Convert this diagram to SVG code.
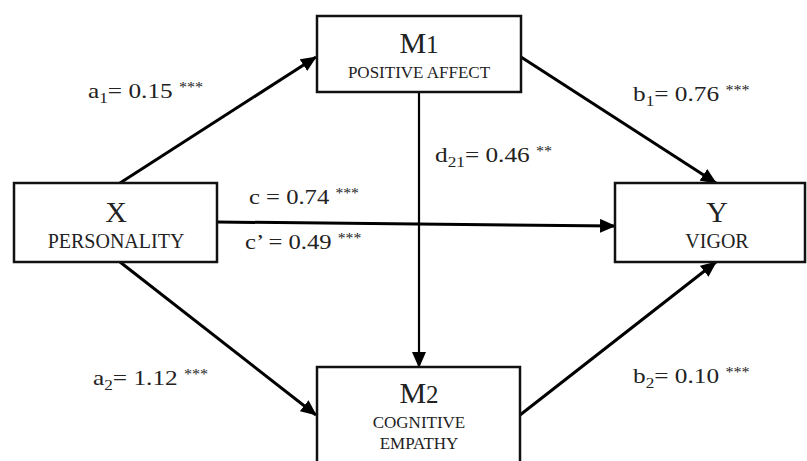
<svg xmlns="http://www.w3.org/2000/svg" width="807" height="461" viewBox="0 0 807 461">
<style>
text{font-family:'Liberation Serif','Times New Roman','DejaVu Serif',serif;fill:#222}
.box{fill:#fff;stroke:#111;stroke-width:2.5}
.big{font-size:30px;text-anchor:middle}
.sm{font-size:17px;text-anchor:middle}
.md{font-size:20px;text-anchor:middle}
.lbl{font-size:22px}
.sub{font-size:15px}
.star{font-size:14px}
.edge{stroke:#000;stroke-width:3;fill:none}
</style>
<defs>
<marker id="ah" markerUnits="userSpaceOnUse" markerWidth="16" markerHeight="14" refX="15" refY="7" orient="auto">
<path d="M0,0 L16,7 L0,14 Z" fill="#000"/>
</marker>
</defs>
<rect width="807" height="461" fill="#fff"/>
<g id="connectors">
<line class="edge" x1="120" y1="183" x2="316" y2="57" marker-end="url(#ah)"/>
<line class="edge" x1="521" y1="57" x2="716" y2="183" marker-end="url(#ah)"/>
<line class="edge" x1="120" y1="262" x2="316" y2="415" marker-end="url(#ah)"/>
<line class="edge" x1="520" y1="415" x2="716" y2="262" marker-end="url(#ah)"/>
<line class="edge" x1="217" y1="222" x2="615" y2="226" marker-end="url(#ah)"/>
<line class="edge" x1="419" y1="92" x2="419" y2="367" style="stroke-width:2.2" marker-end="url(#ah)"/>
</g>
<g id="labels">
<text class="lbl" transform="translate(88,98) scale(1.15,1)">a<tspan class="sub" dy="5">1</tspan><tspan dy="-5">= 0.15 </tspan><tspan class="star" dy="-6">***</tspan></text>
<text class="lbl" transform="translate(633,101) scale(1.15,1)">b<tspan class="sub" dy="5">1</tspan><tspan dy="-5">= 0.76 </tspan><tspan class="star" dy="-6">***</tspan></text>
<text class="lbl" transform="translate(435,162) scale(1.15,1)">d<tspan class="sub" dy="5">21</tspan><tspan dy="-5">= 0.46 </tspan><tspan class="star" dy="-6">**</tspan></text>
<text class="lbl" transform="translate(249,204) scale(1.12,1)">c = 0.74 <tspan class="star" dy="-6">***</tspan></text>
<text class="lbl" transform="translate(245,249) scale(1.12,1)">c’ = 0.49 <tspan class="star" dy="-6">***</tspan></text>
<text class="lbl" transform="translate(93,385) scale(1.15,1)">a<tspan class="sub" dy="5">2</tspan><tspan dy="-5">= 1.12 </tspan><tspan class="star" dy="-6">***</tspan></text>
<text class="lbl" transform="translate(633,383) scale(1.15,1)">b<tspan class="sub" dy="5">2</tspan><tspan dy="-5">= 0.10 </tspan><tspan class="star" dy="-6">***</tspan></text>
</g>
<g id="M1">
<rect class="box" x="317" y="16" width="204" height="76"/>
<text class="big" x="419" y="53">M<tspan style="font-size:25px">1</tspan></text>
<text class="sm" x="419" y="78">POSITIVE AFFECT</text>
</g>
<g id="X">
<rect class="box" x="14" y="183" width="203" height="79"/>
<text class="big" x="116" y="222">X</text>
<text class="md" x="116" y="248">PERSONALITY</text>
</g>
<g id="Y">
<rect class="box" x="615" y="183" width="190" height="79"/>
<text class="big" x="717" y="222">Y</text>
<text class="md" x="717" y="248">VIGOR</text>
</g>
<g id="M2">
<rect class="box" x="317" y="367" width="203" height="100"/>
<text class="big" x="419" y="403">M<tspan style="font-size:25px">2</tspan></text>
<text class="sm" x="419" y="428">COGNITIVE</text>
<text class="sm" x="419" y="449">EMPATHY</text>
</g>
</svg>
